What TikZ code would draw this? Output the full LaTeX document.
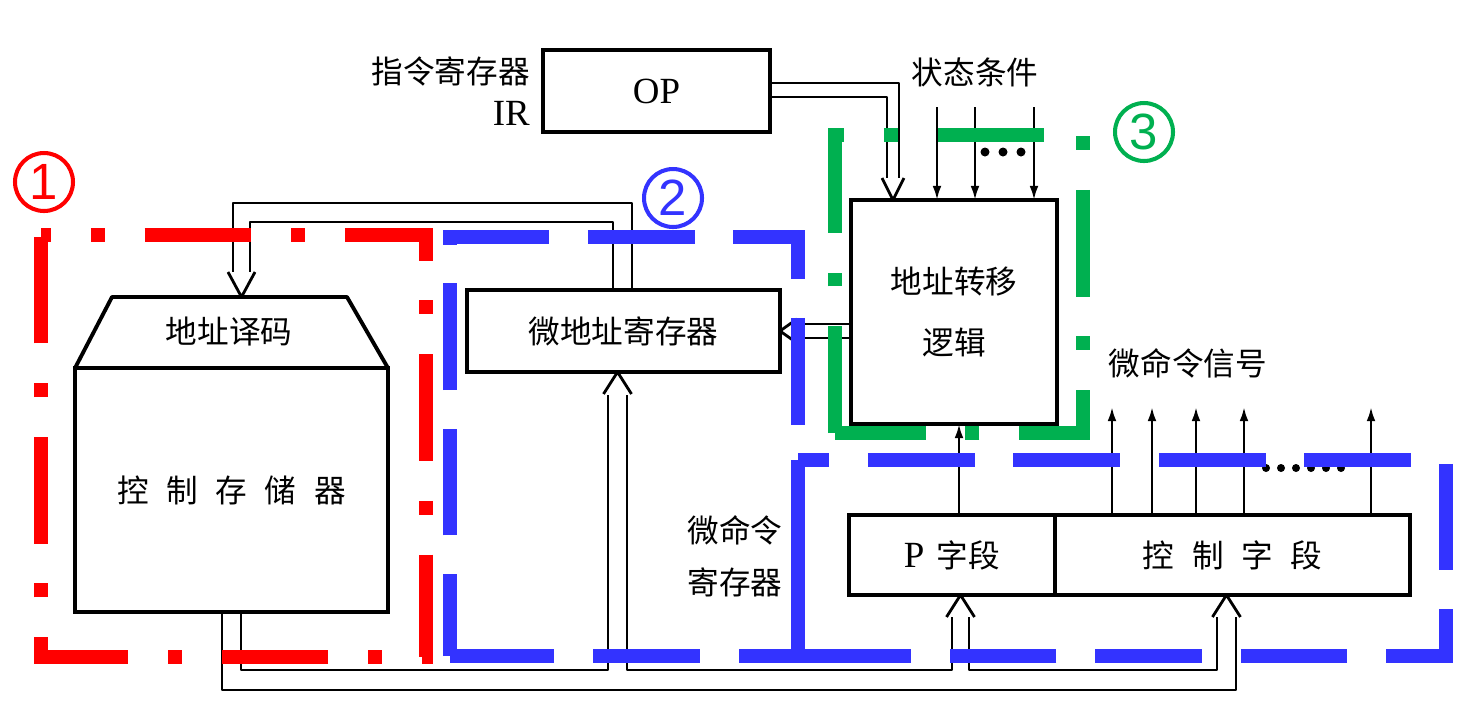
\documentclass[tikz,border=0pt]{standalone}
\usepackage{fontspec}
\setmainfont{Liberation Serif}
\newfontfamily\cjk{Noto Sans CJK SC}
\newfontfamily\numfont{Liberation Sans}
\usetikzlibrary{arrows.meta,calc}
\definecolor{markred}{HTML}{FF0000}
\definecolor{markblue}{HTML}{3333FF}
\definecolor{markgreen}{HTML}{00B050}

\begin{document}
\begin{tikzpicture}[x=0.02cm,y=-0.02cm,font=\cjk\fontsize{18}{24}\selectfont,
  blk/.style={draw,line width=2.2pt,outer sep=0pt,inner sep=0pt},
  wire/.style={line width=1.6pt,line join=round},
  sig/.style={line width=1.4pt,-{Latex[length=8pt,width=5pt]}},
  dashdot/.style={line width=7.6pt,dash pattern=on 60.7pt off 22.7pt on 7.9pt off 22.7pt},
  longdash/.style={line width=7.9pt,dash pattern=on 60.7pt off 22.1pt},
  tag/.style={circle,draw,line width=2.3pt,minimum size=1.16cm,inner sep=0pt,
    font=\numfont\fontsize{29}{29}\selectfont}]
  \useasboundingbox (0,0) rectangle (1474,708);

  % registers, logic and memory
  \node[blk,minimum width=4.54cm,minimum height=1.64cm,
    font=\rmfamily\fontsize{21}{21}\selectfont] (ir) at (656.5,91) {OP};
  \node[anchor=east,align=right,font=\cjk\fontsize{18}{24}\selectfont] (irname) at (536,91)
    {指令寄存器\\{\rmfamily\fontsize{21}{24}\selectfont IR}};
  \node[blk,minimum width=4.12cm,minimum height=4.48cm,align=center,
    font=\cjk\fontsize{18}{35}\selectfont] (jump) at (954,312) {地址转移\\逻辑};
  \node[blk,minimum width=6.26cm,minimum height=1.64cm] (uar) at (623.5,331) {微地址寄存器};
  \node[blk,minimum width=6.26cm,minimum height=4.88cm] (cm) at (231.5,490)
    {控\hspace{10pt}制\hspace{10pt}存\hspace{10pt}储\hspace{10pt}器};
  \draw[line width=2.2pt,line join=round] (cm.north west) -- (112,297) -- (347,297) -- (cm.north east);
  \node (dec) at (229,332) {地址译码};
  \node[blk,minimum width=4.12cm,minimum height=1.6cm] (pf) at (952,555)
    {{\rmfamily\fontsize{21}{21}\selectfont P}\hspace{7pt}字段};
  \node[blk,minimum width=7.1cm,minimum height=1.6cm,anchor=west] (cf) at (pf.east)
    {控\hspace{10pt}制\hspace{10pt}字\hspace{10pt}段};

  % texts
  \node (state) at (975,72) {状态条件};
  \node (cmd) at (1188,363) {微命令信号};
  \node[align=center,font=\cjk\fontsize{18}{29.5}\selectfont] (mir) at (735,556) {微命令\\寄存器};

  % single signal lines
  \foreach \x in {937,975,1034}
    \draw[sig] (\x,107) -- (\x,107 |- jump.north);
  \foreach \x in {985,1003,1021}
    \fill (\x,152) circle (4.5);
  \foreach \x in {1112,1152,1196,1244,1371}
    \draw[sig] (\x,0 |- cf.north) -- (\x,407);
  \foreach \x in {1266,1281,...,1341}
    \fill (\x,468) circle (4);
  \draw[sig] (959,0 |- pf.north) -- (959,0 |- jump.south);

  % hollow buses
  \coordinate (optip) at ($(jump.north west)+(42,0)$);
  \draw[wire] ($(ir.east)+(0,-8)$) -| ($(optip)+(6,-22)$);
  \draw[wire] ($(ir.east)+(0,6)$) -| ($(optip)+(-6,-22)$);
  \draw[wire] ($(optip)+(-11,-22)$) -- (optip) -- ($(optip)+(11,-22)$);

  \coordinate (uartip) at (uar.east);
  \draw[wire] ($(uartip)+(17,-7)$) -- ($(uartip -| jump.west)+(0,-7)$);
  \draw[wire] ($(uartip)+(17,7)$) -- ($(uartip -| jump.west)+(0,7)$);
  \draw[wire] ($(uartip)+(17,-12)$) -- (uartip) -- ($(uartip)+(17,12)$);

  \coordinate (dectip) at (241.5,297);
  \draw[wire] ($(uar.north)+(8.5,0)$) |- ($(dectip)+(-8.5,-94)$) -- ($(dectip)+(-8.5,-25)$);
  \draw[wire] ($(uar.north)+(-10.5,0)$) |- ($(dectip)+(8.5,-75)$) -- ($(dectip)+(8.5,-25)$);
  \draw[wire] ($(dectip)+(-13.5,-25)$) -- (dectip) -- ($(dectip)+(13.5,-25)$);

  \coordinate (uarbot) at ($(uar.south)+(-6,0)$);
  \coordinate (pftip) at ($(pf.south)+(8.5,0)$);
  \coordinate (cftip) at ($(cf.south)+(-6,0)$);
  \draw[wire] ($(cm.south)+(9.5,0)$) |- ($(uarbot)+(-9.5,298)$) -- ($(uarbot)+(-9.5,23)$);
  \draw[wire] ($(uarbot)+(9.5,23)$) |- ($(pftip)+(-8.5,75)$) -- ($(pftip)+(-8.5,22)$);
  \draw[wire] ($(pftip)+(8.5,22)$) |- ($(cftip)+(-9.5,75)$) -- ($(cftip)+(-9.5,22)$);
  \draw[wire] ($(cm.south)+(-9.5,0)$) |- ($(cftip)+(9.5,95)$) -- ($(cftip)+(9.5,22)$);
  \foreach \t in {uarbot,pftip,cftip}
    \draw[wire] ($(\t)+(-14,22)$) -- (\t) -- ($(\t)+(14,22)$);

  % marked regions
  \draw[markred,dashdot,dash phase=55pt] (41,235) -- (426,235) -- (426,657) -- (41,657) -- cycle;
  \draw[markblue,longdash,dash phase=14.2pt] (450,656) -- (450,237) -- (798,237) -- (798,656) -- cycle;
  \draw[markblue,longdash,dash phase=43pt] (798,460) -- (1446,460) -- (1446,656) -- (798,656) -- cycle;
  \draw[markgreen,dashdot] (835,433) -- (835,135) -- (1083,135) -- (1083,433) -- cycle;
  \node[tag,markred] (one) at (44,182) {1};
  \node[tag,markblue] (two) at (673,198) {2};
  \node[tag,markgreen] (three) at (1144,132) {3};
\end{tikzpicture}
\end{document}
